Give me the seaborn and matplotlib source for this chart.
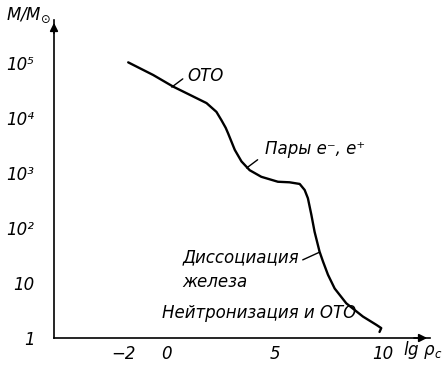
import matplotlib
matplotlib.use("Agg")
import matplotlib.pyplot as plt
import seaborn as sns

# curve: lg(rho_c) vs lg(M/M_sun)
lg_rho = [-1.79, -0.63, 0.29, 1.22, 1.84, 2.30, 2.53, 2.73, 2.84, 3.15, 3.46,
          3.84, 4.38, 5.15, 5.69, 6.16, 6.39, 6.54, 6.70, 6.85, 7.08, 7.24,
          7.47, 7.78, 8.32, 9.09, 9.71, 9.94, 9.86]
lg_mass = [5.01, 4.78, 4.57, 4.39, 4.27, 4.11, 3.96, 3.82, 3.72, 3.42, 3.21,
           3.05, 2.93, 2.84, 2.83, 2.80, 2.69, 2.54, 2.24, 1.93, 1.57, 1.39,
           1.15, 0.90, 0.63, 0.39, 0.24, 0.18, 0.11]

x_ticks = [-2, 0, 5, 10]
x_labels = ["\u22122", "0", "5", "10"]
y_ticks = [0, 1, 2, 3, 4, 5]
y_labels = ["1", "10", "10\u00b2", "10\u00b3", "10\u2074", "10\u2075"]

sns.set_style("white")
plt.rcParams["font.family"] = ["DejaVu Sans"]
plt.rcParams["font.style"] = "italic"
plt.rcParams["text.color"] = "black"
plt.rcParams["mathtext.default"] = "it"
plt.rcParams["mathtext.fontset"] = "dejavusans"

fig = plt.figure(figsize=(4.44, 3.66), dpi=100)
ax = fig.add_axes([54 / 444, 28 / 366, 376 / 444, 318 / 366])

sns.lineplot(x=lg_rho, y=lg_mass, sort=False, estimator=None, color="black",
             linewidth=1.7, ax=ax)

ax.set_xlim(-5.23, 12.2)
ax.set_ylim(0, 5.78)

for side in ["top", "right"]:
    ax.spines[side].set_visible(False)
for side in ["left", "bottom"]:
    ax.spines[side].set_linewidth(1.2)
    ax.spines[side].set_color("black")

# arrow heads on the axes
ax.annotate("", xy=(1.0, 0), xytext=(0.95, 0), xycoords="axes fraction",
            arrowprops=dict(arrowstyle="-|>", color="black", lw=1.2,
                            mutation_scale=12))
ax.annotate("", xy=(0, 1.0), xytext=(0, 0.95), xycoords="axes fraction",
            arrowprops=dict(arrowstyle="-|>", color="black", lw=1.2,
                            mutation_scale=12))

ax.set_xticks(x_ticks)
ax.set_xticklabels(x_labels, fontsize=12, fontstyle="italic")
ax.set_yticks(y_ticks)
ax.set_yticklabels(y_labels, fontsize=12, fontstyle="italic")
ax.tick_params(axis="both", direction="in", length=4, width=1.1,
               colors="black")
ax.tick_params(axis="y", pad=14)
ax.tick_params(axis="x", pad=5)
ax.set_xlabel("")
ax.set_ylabel("")

# axis titles
ax.text(-5.35, 5.87, r"$M/M_{\odot}$", fontsize=12, ha="right", va="center",
        clip_on=False)
ax.text(10.95, -0.22, r"lg $\rho_c$", fontsize=12, ha="left", va="center",
        clip_on=False)

# annotations with leader lines
ax.plot([0.23, 0.74], [4.56, 4.71], color="black", lw=1)
ax.text(0.93, 4.76, "ОТО", fontsize=12, ha="left", va="center")

ax.plot([3.70, 4.21], [3.09, 3.24], color="black", lw=1)
ax.text(4.54, 3.44, "Пары e\u207b, e\u207a", fontsize=12, ha="left",
        va="center")

ax.plot([6.30, 7.08], [1.42, 1.56], color="black", lw=1)
ax.text(0.74, 1.47, "Диссоциация", fontsize=12, ha="left", va="center")
ax.text(0.74, 1.02, "железа", fontsize=12, ha="left", va="center")

ax.text(-0.23, 0.45, "Нейтронизация и ОТО", fontsize=12, ha="left",
        va="center")

fig.savefig("out.png", dpi=100)
